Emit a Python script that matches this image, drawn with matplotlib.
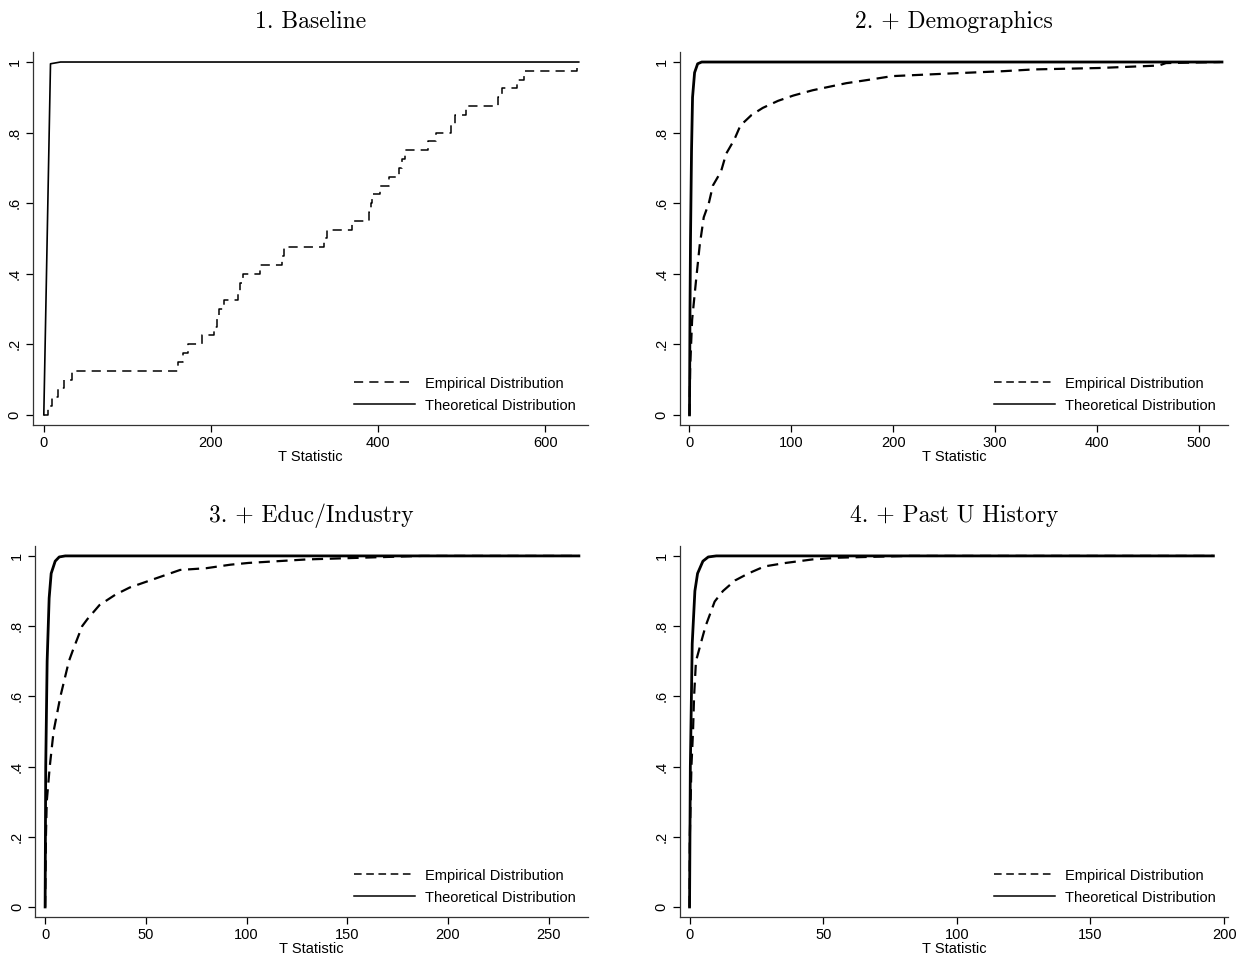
import matplotlib
matplotlib.use("Agg")
import matplotlib.pyplot as plt

plt.rcParams['font.family'] = ['Liberation Sans', 'DejaVu Sans']

# 1. Data
titles = ['1. Baseline', '2. + Demographics', '3. + Educ/Industry', '4. + Past U History']

emp1_x = [0, 5, 10, 17, 24, 34, 160, 166, 172, 189, 204, 207, 210, 216, 232, 235, 238, 259,
          285, 287, 335, 339, 369, 389, 391, 393, 402, 413, 425, 428, 432, 460, 469,
          487, 492, 505, 543, 548, 566, 574, 638]
emp1_y = [0, 0.025, 0.05, 0.075, 0.1, 0.125, 0.15, 0.175, 0.2, 0.225, 0.25, 0.275, 0.3, 0.325,
          0.35, 0.375, 0.4, 0.425, 0.45, 0.475, 0.5, 0.525, 0.55, 0.575, 0.6, 0.625, 0.65,
          0.675, 0.7, 0.725, 0.75, 0.775, 0.8, 0.825, 0.85, 0.875, 0.9, 0.925, 0.95, 0.975,
          0.985]
theo1_x = [0, 8, 20, 640]
theo1_y = [0, 0.995, 1.0, 1.0]

emp2_x = [0, 0.7, 2.6, 6.4, 10, 14, 19, 23, 31, 36, 44, 50, 61, 72, 87, 102, 121, 154, 177,
          199, 252, 308, 338, 402, 461, 468, 521]
emp2_y = [0, 0.14, 0.27, 0.38, 0.48, 0.56, 0.60, 0.65, 0.69, 0.74, 0.78, 0.82, 0.85, 0.87,
          0.89, 0.905, 0.92, 0.94, 0.95, 0.96, 0.967, 0.974, 0.979, 0.983, 0.99, 0.997, 1.0]
theo2_x = [0, 0.5, 1, 2, 3, 5, 8, 12, 523]
theo2_y = [0, 0.30, 0.50, 0.75, 0.90, 0.97, 0.995, 1.0, 1.0]

emp3_x = [0, 0.4, 0.8, 2.3, 4.2, 7.6, 11.8, 13.7, 18.4, 21, 27, 35, 42, 52, 67, 80, 92, 101,
          130, 158, 187, 265]
emp3_y = [0, 0.2, 0.3, 0.4, 0.5, 0.6, 0.7, 0.73, 0.8, 0.82, 0.86, 0.89, 0.91, 0.93, 0.96,
          0.965, 0.975, 0.98, 0.99, 0.995, 1.0, 1.0]
theo3_x = [0, 0.3, 1, 2, 3, 5, 7, 10, 265]
theo3_y = [0, 0.40, 0.70, 0.88, 0.95, 0.985, 0.997, 1.0, 1.0]

emp4_x = [0, 0.1, 0.7, 1.3, 1.7, 2.4, 4.9, 6, 9.4, 12.5, 17, 22, 28, 36, 46, 56, 82, 196]
emp4_y = [0, 0.2, 0.4, 0.5, 0.6, 0.7, 0.77, 0.8, 0.87, 0.9, 0.93, 0.95, 0.97, 0.98, 0.99,
          0.995, 1.0, 1.0]
theo4_x = [0, 0.3, 1, 2, 3, 5, 7, 10, 196]
theo4_y = [0, 0.40, 0.75, 0.90, 0.95, 0.985, 0.997, 1.0, 1.0]

panels = [
    (emp1_x, emp1_y, theo1_x, theo1_y, (-13, 651), [0, 200, 400, 600], True),
    (emp2_x, emp2_y, theo2_x, theo2_y, (-9.4, 529), [0, 100, 200, 300, 400, 500], False),
    (emp3_x, emp3_y, theo3_x, theo3_y, (-5, 269.5), [0, 50, 100, 150, 200, 250], False),
    (emp4_x, emp4_y, theo4_x, theo4_y, (-3.6, 201.5), [0, 50, 100, 150, 200], False),
]

yticks = [0, 0.2, 0.4, 0.6, 0.8, 1.0]
ytick_labels = ['0', '.2', '.4', '.6', '.8', '1']

# 2. Setup the figure
fig = plt.figure(figsize=(12.43, 9.58), dpi=100)
positions = [
    [0.0265, 0.5564, 0.4465, 0.3894],
    [0.547, 0.5564, 0.441, 0.3894],
    [0.0282, 0.0428, 0.4448, 0.3874],
    [0.547, 0.0428, 0.441, 0.3874],
]

for i, (ex, ey, tx, ty, xlim, xt, steps) in enumerate(panels):
    ax = fig.add_axes(positions[i])
    if steps:
        ax.step(ex, ey, where='post', color='black', lw=1.1, linestyle=(0, (6, 4)),
                label='Empirical Distribution')
        ax.plot(tx, ty, color='black', lw=1.2, label='Theoretical Distribution')
    else:
        ax.plot(ex, ey, color='black', lw=1.6, linestyle=(0, (5, 3)),
                label='Empirical Distribution')
        ax.plot(tx, ty, color='black', lw=2.0, label='Theoretical Distribution')

    ax.set_xlim(*xlim)
    ax.set_ylim(-0.0286, 1.0286)
    ax.set_xticks(xt)
    ax.set_yticks(yticks)
    ax.set_yticklabels(ytick_labels, rotation=90, va='center')
    ax.tick_params(labelsize=10.5, length=5, width=0.9, pad=3)
    ax.set_xlabel('T Statistic', fontsize=10.5, labelpad=0)
    for s in ['top', 'right']:
        ax.spines[s].set_visible(False)
    for s in ['left', 'bottom']:
        ax.spines[s].set_linewidth(0.9)
        ax.spines[s].set_color('#333333')
    ax.set_title(titles[i], fontsize=17, family='cmr10', pad=17)

    leg = ax.legend(loc='lower right', frameon=False, fontsize=10.5, handlelength=4.2,
                    handletextpad=0.65, labelspacing=0.55, borderaxespad=0.45)
    for h in leg.get_lines():
        h.set_linewidth(1.1)

plt.savefig('out.png', dpi=100)
